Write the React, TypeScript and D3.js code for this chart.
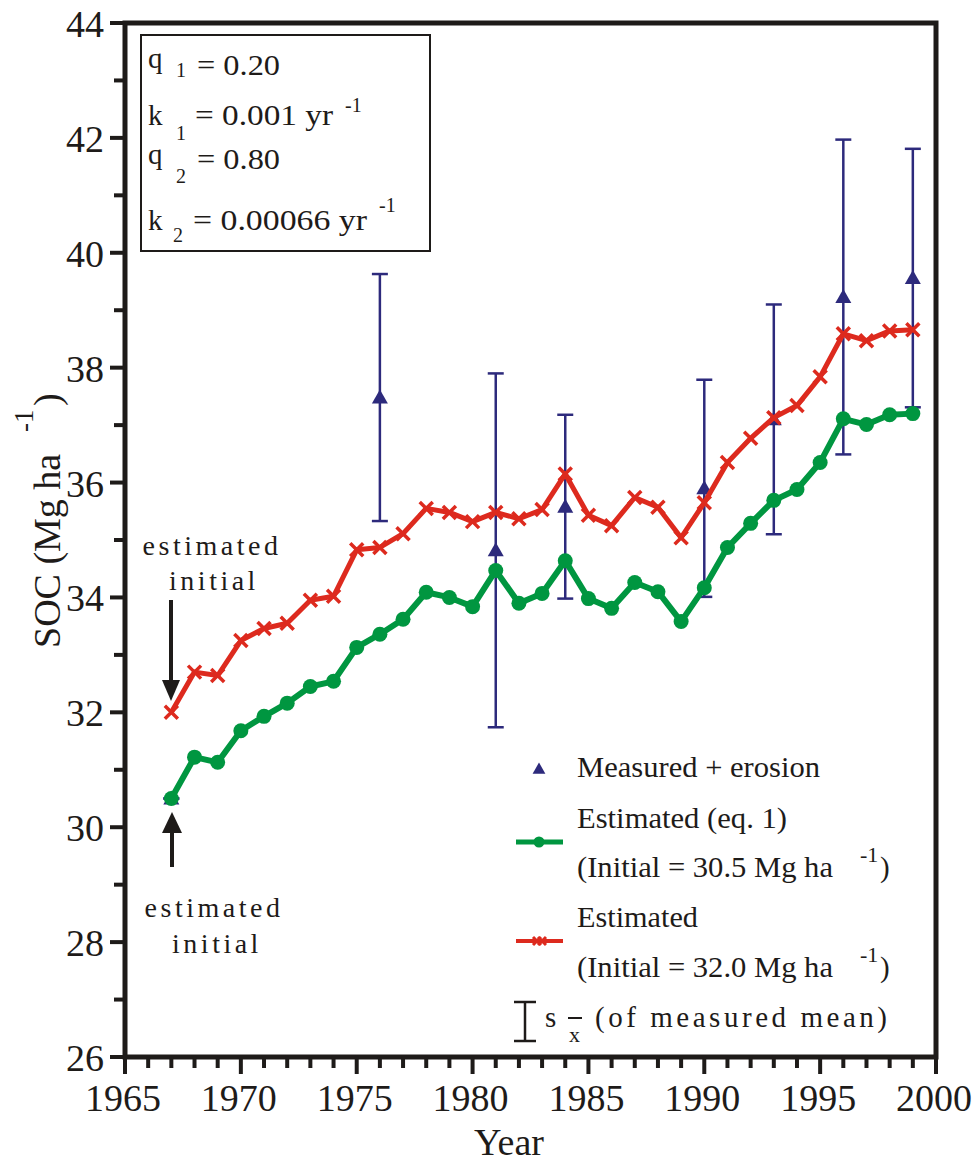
import React from "react";
import * as d3 from "d3";

const years = d3.range(1967, 2000);
const estRed = [32.0, 32.7, 32.64, 33.25, 33.46, 33.55, 33.95, 34.02, 34.83, 34.87, 35.11, 35.55, 35.48, 35.32, 35.48, 35.37, 35.53, 36.15, 35.43, 35.25, 35.74, 35.57, 35.04, 35.65, 36.35, 36.77, 37.13, 37.34, 37.84, 38.59, 38.47, 38.64, 38.66];
const estGreen = [30.5, 31.22, 31.13, 31.68, 31.93, 32.16, 32.45, 32.54, 33.13, 33.36, 33.62, 34.09, 34.0, 33.84, 34.47, 33.9, 34.07, 34.64, 33.98, 33.81, 34.26, 34.1, 33.58, 34.17, 34.87, 35.29, 35.69, 35.88, 36.35, 37.11, 37.01, 37.18, 37.2];
const measYears = [1967, 1976, 1981, 1984, 1990, 1993, 1996, 1999];
const measMean = [30.5, 37.48, 34.82, 35.58, 35.9, 37.1, 39.23, 39.56];
const measErr = [0, 2.15, 3.08, 1.6, 1.89, 2.0, 2.74, 2.25];
const yTicks = [26, 28, 30, 32, 34, 36, 38, 40, 42, 44];
const xTicks = [1965, 1970, 1975, 1980, 1985, 1990, 1995, 2000];

const NAVY = "#2d2a7c";
const GREEN = "#009640";
const RED = "#dd2a1e";
const INK = "#1e1b19";

const x = d3.scaleLinear().domain([1965, 2000]).range([125, 936]);
const y = d3.scaleLinear().domain([26, 44]).range([1057, 23]);

const tri = "M0,-8L8,6L-8,6Z";
const cross = "M-6.5,-6.5L6.5,6.5M-6.5,6.5L6.5,-6.5";

function T(props: any) {
  const { size = 29, ls, len, adj = "spacingAndGlyphs", style, children, ...rest } = props;
  const extra = len ? { textLength: len, lengthAdjust: adj } : {};
  return (
    <text fill={INK} fontSize={size} {...extra} {...rest} style={{ fontFamily: "Liberation Serif", letterSpacing: ls, ...(style || {}) }}>
      {children}
    </text>
  );
}

export default function App() {
  const lineGen = d3.line<number>().x((_, i) => x(years[i])).y((d) => y(d));
  const minorX = d3.range(1965, 2001);
  const minorY = d3.range(26, 45);
  return (
    <svg width={975} height={1163} style={{ position: "absolute", left: 0, top: 0, background: "#fff" }}>
      <rect x={0} y={0} width={975} height={1163} fill="#fff" />
      {measYears.map((yr, i) => {
        const cx = x(yr);
        const t = y(measMean[i] + measErr[i]);
        const b = y(measMean[i] - measErr[i]);
        return (
          <g key={"e" + yr} stroke={NAVY} strokeWidth={2.5}>
            <line x1={cx} x2={cx} y1={t} y2={b} />
            <line x1={cx - 8} x2={cx + 8} y1={t} y2={t} />
            <line x1={cx - 8} x2={cx + 8} y1={b} y2={b} />
          </g>
        );
      })}
      {measYears.map((yr, i) => (
        <path key={"t" + yr} d={tri} transform={`translate(${x(yr)},${y(measMean[i])})`} fill={NAVY} />
      ))}
      <path d={lineGen(estGreen) || ""} fill="none" stroke={GREEN} strokeWidth={6} strokeLinejoin="round" />
      {estGreen.map((v, i) => (
        <circle key={"g" + i} cx={x(years[i])} cy={y(v)} r={7.5} fill={GREEN} />
      ))}
      <path d={lineGen(estRed) || ""} fill="none" stroke={RED} strokeWidth={5} strokeLinejoin="round" />
      {estRed.map((v, i) => (
        <path key={"r" + i} d={cross} transform={`translate(${x(years[i])},${y(v)})`} stroke={RED} strokeWidth={3.5} fill="none" />
      ))}

      <rect x={x(1965)} y={y(44)} width={x(2000) - x(1965)} height={y(26) - y(44)} fill="none" stroke={INK} strokeWidth={5} />
      {minorY.map((v) => (
        <line key={"yt" + v} x1={v % 2 === 0 ? 110 : 114} x2={125} y1={y(v)} y2={y(v)} stroke={INK} strokeWidth={4} />
      ))}
      {yTicks.map((v) => (
        <T key={"yl" + v} x={104} y={y(v) + 14} size={38} textAnchor="end">{v}</T>
      ))}
      {minorX.map((v) => (
        <line key={"xt" + v} x1={x(v)} x2={x(v)} y1={1057} y2={v % 5 === 0 ? 1074 : 1068} stroke={INK} strokeWidth={4} />
      ))}
      {xTicks.map((v) => (
        <T key={"xl" + v} x={x(v) - 2} y={1111} size={38} textAnchor="middle">{v}</T>
      ))}
      <T x={509} y={1155} size={38} textAnchor="middle">Year</T>
      <g transform="translate(60,648) rotate(-90)">
        <T x={0} y={0} size={38}>SOC (Mg ha</T>
        <T x={216} y={-27} size={27}>-1</T>
        <T x={242} y={0} size={38}>)</T>
      </g>

      <rect x={141} y={35} width={289} height={216} fill="#fff" stroke={INK} strokeWidth={2} />
      <T x={148} y={68}>q</T>
      <T x={176} y={77} size={20}>1</T>
      <T x={197} y={75} len={83}>= 0.20</T>
      <T x={148} y={125}>k</T>
      <T x={176} y={140} size={20}>1</T>
      <T x={195} y={125} len={138}>= 0.001 yr</T>
      <T x={345} y={112} size={20}>-1</T>
      <T x={148} y={164}>q</T>
      <T x={176} y={183} size={20}>2</T>
      <T x={197} y={169} len={83}>= 0.80</T>
      <T x={148} y={230}>k</T>
      <T x={173} y={242} size={20}>2</T>
      <T x={193} y={230} len={174}>= 0.00066 yr</T>
      <T x={379} y={212} size={20}>-1</T>

      <T x={212} y={555} size={28} ls={3.5} textAnchor="middle">estimated</T>
      <T x={214} y={590} size={28} ls={3.5} textAnchor="middle">initial</T>
      <T x={214} y={917} size={28} ls={3.5} textAnchor="middle">estimated</T>
      <T x={217} y={953} size={28} ls={3.5} textAnchor="middle">initial</T>
      <line x1={171} x2={171} y1={600} y2={684} stroke={INK} strokeWidth={4} />
      <path d="M162,680L180,680L171,701Z" fill={INK} />
      <line x1={172} x2={172} y1={830} y2={867} stroke={INK} strokeWidth={4} />
      <path d="M162,833L182,833L172,812Z" fill={INK} />

      <path d={tri} transform="translate(539,769) scale(0.8)" fill={NAVY} />
      <T x={577} y={777} len={243}>Measured + erosion</T>
      <T x={577} y={828} len={210}>Estimated (eq. 1)</T>
      <T x={577} y={877} len={256}>(Initial = 30.5 Mg ha</T>
      <T x={860} y={862} size={22}>-1</T>
      <T x={880} y={877}>)</T>
      <T x={577} y={927} len={121}>Estimated</T>
      <T x={577} y={977} len={256}>(Initial = 32.0 Mg ha</T>
      <T x={860} y={962} size={22}>-1</T>
      <T x={880} y={977}>)</T>
      <T x={545} y={1027}>s</T>
      <T x={569} y={1042} size={22}>x</T>
      <T x={595} y={1027} len={292} adj="spacing">(of measured mean)</T>
      <line x1={568} x2={582} y1={1018} y2={1018} stroke={INK} strokeWidth={2} />
      <line x1={516} x2={563} y1={842} y2={842} stroke={GREEN} strokeWidth={5} />
      <circle cx={539} cy={842} r={5.5} fill={GREEN} />
      <line x1={516} x2={563} y1={941} y2={941} stroke={RED} strokeWidth={4} />
      <path d="M-4,-4L4,4M-4,4L4,-4" transform="translate(537,941)" stroke={RED} strokeWidth={3} />
      <path d="M-4,-4L4,4M-4,4L4,-4" transform="translate(542,941)" stroke={RED} strokeWidth={3} />
      <g stroke={INK} strokeWidth={2.5}>
        <line x1={525} x2={525} y1={1002} y2={1041} />
        <line x1={514} x2={536} y1={1002} y2={1002} />
        <line x1={514} x2={536} y1={1041} y2={1041} />
      </g>
    </svg>
  );
}
